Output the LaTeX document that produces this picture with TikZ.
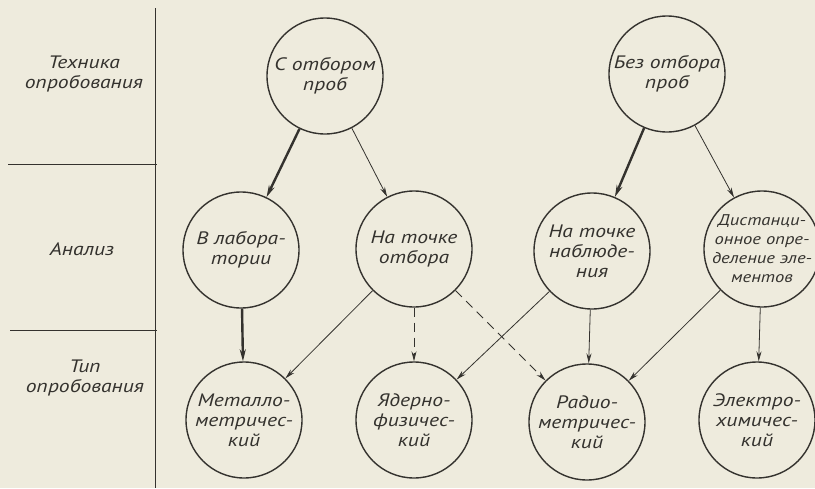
\documentclass[tikz,border=0pt]{standalone}
\usepackage{fontspec}
\newfontfamily\sketchfont[FakeStretch=1.2]{PT Sans}
\usetikzlibrary{arrows.meta}
\definecolor{paper}{RGB}{238,235,221}
\definecolor{ink}{RGB}{52,50,46}

\begin{document}
\begin{tikzpicture}[x=1pt, y=-1pt,
    stage/.style={circle, draw=ink, line width=1.4pt, minimum size=116pt, inner sep=0pt},
    stagetext/.style={align=center, text=ink, font=\sketchfont\itshape\fontsize{18}{20}\selectfont},
    smalltext/.style={stagetext, font=\sketchfont\itshape\fontsize{15.5}{19}\selectfont},
    link/.style={draw=ink, line width=0.8pt, -{Stealth[length=10pt, width=5pt]}},
    mainlink/.style={link, line width=2.4pt, -{Stealth[length=12pt, width=6pt]}},
    guesslink/.style={link, dash pattern=on 9pt off 6pt},
    rule/.style={draw=ink, line width=1pt}]
  \fill[paper] (0,0) rectangle (815,488);
  \useasboundingbox (0,0) rectangle (815,488);
  % row headings
  \draw[rule] (155,8) -- (155,488);
  \draw[rule] (8,164) -- (157,164);
  \draw[rule] (10,330) -- (157,330);
  \node[stagetext] (technique) at (84,74) {Техника\\опробования};
  \node[stagetext] (analysis) at (82,249) {Анализ};
  \node[stagetext] (kind) at (85,378) {Тип\\опробования};
  % sampling technique
  \node[stage, label={[stagetext]center:С отбором\\проб}] (withsample) at (325,76) {};
  \node[stage, label={[stagetext]center:Без отбора\\проб}] (nosample) at (667,74) {};
  % analysis
  \node[stage, label={[stagetext]center:В лабора-\\тории}] (lab) at (241,250) {};
  \node[stage, label={[stagetext]center:На точке\\отбора}] (atsite) at (414,249) {};
  \node[stage, label={[stagetext]center:На точке\\наблюде-\\ния}] (atobs) at (592,251) {};
  \node[stage, label={[smalltext]center:Дистанци-\\онное опре-\\деление эле-\\ментов}] (remote) at (762,249) {};
  % kind of sampling
  \node[stage, label={[stagetext]center:Металло-\\метричес-\\кий}] (metal) at (244,420) {};
  \node[stage, label={[stagetext]center:Ядерно-\\физичес-\\кий}] (nuclear) at (414,420) {};
  \node[stage, label={[stagetext]center:Радио-\\метричес-\\кий}] (radio) at (587,422) {};
  \node[stage, label={[stagetext]center:Электро-\\химичес-\\кий}] (electro) at (757,420) {};
  % connections
  \draw[mainlink] (withsample) -- (lab);
  \draw[link] (withsample) -- (atsite);
  \draw[mainlink] (nosample) -- (atobs);
  \draw[link] (nosample) -- (remote);
  \draw[mainlink] (lab) -- (metal);
  \draw[link] (atsite) -- (metal);
  \draw[guesslink] (atsite) -- (nuclear);
  \draw[guesslink] (atsite) -- (radio);
  \draw[link] (atobs) -- (nuclear);
  \draw[link] (atobs) -- (radio);
  \draw[link] (remote) -- (radio);
  \draw[link] (remote) -- (electro);
\end{tikzpicture}
\end{document}
